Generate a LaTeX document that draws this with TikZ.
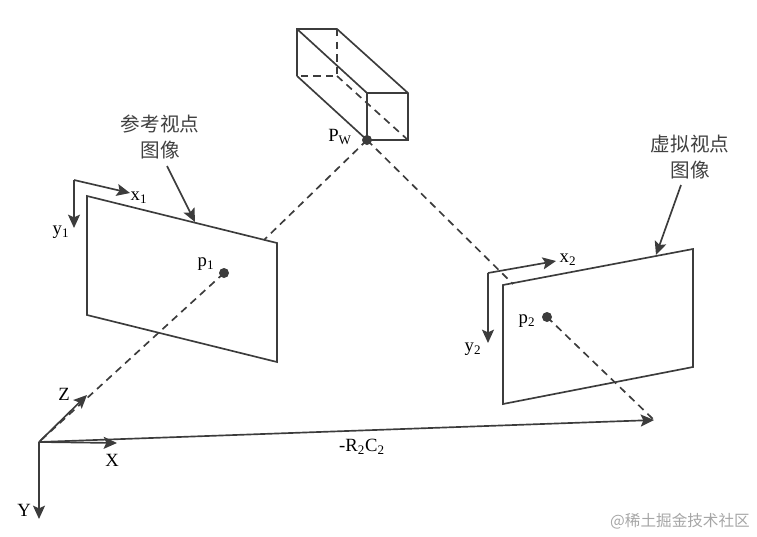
\documentclass[tikz,border=0pt]{standalone}
\usepackage{fontspec}
\setmainfont{Liberation Serif}
\newfontfamily\cjk{Noto Sans CJK SC}
\usetikzlibrary{arrows.meta}
\definecolor{inkgrey}{HTML}{3C3C3C}
\tikzset{
    line/.style={draw=inkgrey,line width=1.25pt},
    dashline/.style={line,dash pattern=on 5.5pt off 4pt},
    pointdot/.style={circle,fill=inkgrey,inner sep=0pt,minimum size=7.5pt},
    lbl/.style={text=black,font=\fontsize{14}{16}\selectfont,inner sep=0pt},
    cjklbl/.style={text=black!75,font=\fontsize{14.7}{20}\selectfont\cjk,inner sep=0pt,align=center}
}
\begin{document}
\begin{tikzpicture}[x=0.75pt,y=-0.75pt,>={Stealth[length=10pt,width=9pt,inset=2pt]}]
    \useasboundingbox (0,0) rectangle (757,536);
    % cuboid
    \coordinate (bTL) at (297,29);
    \coordinate (bTR) at (337,29);
    \coordinate (bBL) at (297,76);
    \coordinate (bBR) at (337,76);
    \coordinate (fTL) at (367,93);
    \coordinate (fTR) at (408,93);
    \coordinate (fBR) at (408,140);
    \node[pointdot] (Pw) at (367,140) {};
    \draw[line] (bBL) -- (bTL) -- (bTR) -- (fTR) -- (fBR) -- (Pw.center) -- (fTL) -- (fTR);
    \draw[line] (bTL) -- (fTL);
    \draw[line] (bBL) -- (Pw.center);
    \draw[dashline] (bTR) -- (bBR) -- (bBL);
    \draw[dashline] (bBR) -- (fBR);
    % reference image
    \coordinate (A1) at (87,196);
    \coordinate (A2) at (277,243);
    \coordinate (A3) at (277,362);
    \coordinate (A4) at (87,315);
    \draw[line] (A1) -- (A2) -- (A3) -- (A4) -- cycle;
    \coordinate (corner1) at (74,180);
    \coordinate (x1end) at (130,193);
    \coordinate (y1end) at (74,228);
    \draw[line,->] (corner1) -- (x1end);
    \draw[line,->] (corner1) -- (y1end);
    \node[pointdot] (p1) at (224,273) {};
    % virtual image
    \coordinate (B1) at (503,285);
    \coordinate (B2) at (693,249);
    \coordinate (B3) at (693,367);
    \coordinate (B4) at (503,404);
    \draw[line] (B1) -- (B2) -- (B3) -- (B4) -- cycle;
    \coordinate (corner2) at (488,273);
    \coordinate (x2end) at (556,261);
    \coordinate (y2end) at (488,343);
    \draw[line,->] (corner2) -- (x2end);
    \draw[line,->] (corner2) -- (y2end);
    \node[pointdot] (p2) at (547,317) {};
    % rays
    \coordinate (ray1) at (264,240);
    \coordinate (ray2) at (513,284);
    \coordinate (O) at (39,442);
    \coordinate (Xend) at (117,443);
    \coordinate (Yend) at (39,519);
    \coordinate (Zend) at (87,395);
    \coordinate (Cend) at (654,420);
    \draw[dashline] (Pw.center) -- (ray1);
    \draw[dashline] (Pw.center) -- (ray2);
    \draw[dashline] (p1.center) -- (O);
    \draw[dashline] (p2.center) -- (Cend);
    \draw[line,->] (O) -- (Xend);
    \draw[line,->] (O) -- (Yend);
    \draw[line,->] (O) -- (Zend);
    \draw[line,->] (O) -- (Cend);
    % callouts
    \node[cjklbl] (refText) at (160,137) {参考视点\\图像};
    \node[cjklbl] (virText) at (690,157) {虚拟视点\\图像};
    \coordinate (refStart) at (167,166);
    \coordinate (virStart) at (681,185);
    \coordinate (refTip) at (195,222);
    \coordinate (virTip) at (656,255);
    \draw[line,->] (refStart) -- (refTip);
    \draw[line,->] (virStart) -- (virTip);
    % labels
    \node[lbl] (lPw) at (340,137) {P\textsubscript{W}};
    \node[lbl] (lx1) at (139,198) {x\textsubscript{1}};
    \node[lbl] (ly1) at (61,232) {y\textsubscript{1}};
    \node[lbl] (lp1) at (206,264) {p\textsubscript{1}};
    \node[lbl] (lx2) at (568,260) {x\textsubscript{2}};
    \node[lbl] (ly2) at (473,349) {y\textsubscript{2}};
    \node[lbl] (lp2) at (527,321) {p\textsubscript{2}};
    \node[lbl] (lZ) at (64,394) {Z};
    \node[lbl] (lX) at (112,460) {X};
    \node[lbl] (lY) at (24,510) {Y};
    \node[lbl] (lC) at (362,447) {-R\textsubscript{2}C\textsubscript{2}};
    \node[text=black!35,font=\fontsize{11.7}{14}\selectfont\cjk,inner sep=0pt] (mark) at (680,521) {@稀土掘金技术社区};
\end{tikzpicture}
\end{document}
